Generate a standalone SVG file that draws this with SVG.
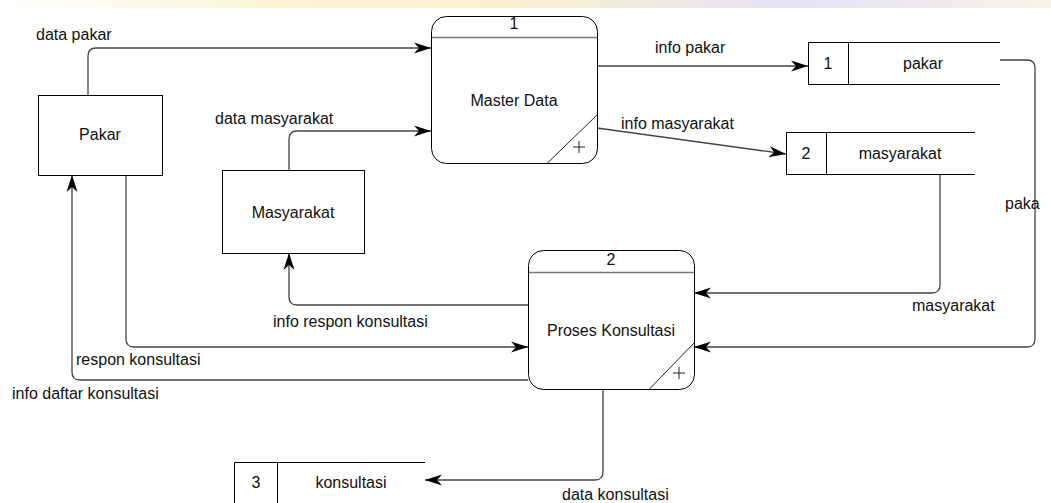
<svg xmlns="http://www.w3.org/2000/svg" width="1051" height="503" viewBox="0 0 1051 503">
<style>
  text { font-family: "Liberation Sans", Arial, sans-serif; font-size: 16px; fill: #111; }
  .box { fill: #fff; stroke: #000; stroke-width: 1; }
  .proc { fill: #fff; stroke: #000; stroke-width: 1; }
  .hdr { stroke: #777; stroke-width: 1.5; fill: none; }
  .thin { stroke: #222; stroke-width: 1; fill: none; }
  .store { stroke: #000; stroke-width: 1; fill: none; }
  .flow { stroke: #444; stroke-width: 1.3; fill: none; marker-end: url(#arr); }
  .c { text-anchor: middle; }
</style>
<defs>
  <marker id="arr" markerUnits="userSpaceOnUse" markerWidth="18" markerHeight="12" refX="17" refY="6" orient="auto">
    <path d="M0,0.5 L17,6 L0,11.5 L5,6 z" fill="#000"/>
  </marker>
  <linearGradient id="wm" x1="0" y1="0" x2="1" y2="0">
    <stop offset="0" stop-color="#fff"/>
    <stop offset="0.3" stop-color="#fbf3d0"/>
    <stop offset="0.55" stop-color="#f6efd6"/>
    <stop offset="0.75" stop-color="#e6e2f8"/>
    <stop offset="1" stop-color="#f7f3e6"/>
  </linearGradient>
</defs>
<rect width="1051" height="503" fill="#fff"/>
<rect x="0" y="0" width="1051" height="8" fill="url(#wm)"/>

<g id="connectors">
  <path class="flow" d="M88,95 V56 Q88,48 96,48 H431"/>
  <path class="flow" d="M289,170 V139 Q289,131 297,131 H431"/>
  <path class="flow" d="M597,66 H808"/>
  <path class="flow" d="M597,128 L786,154"/>
  <path class="flow" d="M940,174 V285 Q940,293 932,293 H694"/>
  <path class="flow" d="M1000,60 H1027 Q1035,60 1035,68 V339 Q1035,347 1027,347 H694"/>
  <path class="flow" d="M528,305 H297 Q289,305 289,297 V253"/>
  <path class="flow" d="M126,175 V339 Q126,347 134,347 H528"/>
  <path class="flow" d="M528,380 H80 Q72,380 72,372 V175"/>
  <path class="flow" d="M603,390 V472 Q603,480 595,480 H425"/>
  <text x="36" y="40">data pakar</text>
  <text x="215" y="124">data masyarakat</text>
  <text x="655" y="53">info pakar</text>
  <text x="621" y="129">info masyarakat</text>
  <text x="912" y="311">masyarakat</text>
  <text x="1005" y="209">paka</text>
  <text x="273" y="327">info respon konsultasi</text>
  <text x="76" y="365">respon konsultasi</text>
  <text x="12" y="399">info daftar konsultasi</text>
  <text x="562" y="500">data konsultasi</text>
</g>

<g id="pakar">
  <rect class="box" x="38.5" y="95.5" width="124" height="80"/>
  <text class="c" x="100" y="140">Pakar</text>
</g>

<g id="masyarakat">
  <rect class="box" x="222.5" y="170.5" width="142" height="83"/>
  <text class="c" x="293" y="218">Masyarakat</text>
</g>

<g id="master-data">
  <rect class="proc" x="431.5" y="16.5" width="166" height="147" rx="15"/>
  <line class="hdr" x1="432" y1="37.5" x2="597" y2="37.5"/>
  <line class="thin" x1="597" y1="115" x2="547" y2="163.5"/>
  <path class="thin" d="M573,147 H585 M579,141 V153"/>
  <text class="c" x="514" y="29">1</text>
  <text class="c" x="514" y="106">Master Data</text>
</g>

<g id="proses-konsultasi">
  <rect class="proc" x="528.5" y="250.5" width="166" height="139" rx="15"/>
  <line class="hdr" x1="529" y1="272.5" x2="694" y2="272.5"/>
  <line class="thin" x1="694" y1="343" x2="649" y2="389.5"/>
  <path class="thin" d="M673,373 H685 M679,367 V379"/>
  <text class="c" x="611" y="265">2</text>
  <text class="c" x="611" y="336">Proses Konsultasi</text>
</g>

<g id="store-pakar">
  <path class="store" d="M1000,42.5 H808.5 V84.5 H1000 M848.5,42.5 V84.5"/>
  <text class="c" x="828" y="69">1</text>
  <text class="c" x="923" y="69">pakar</text>
</g>

<g id="store-masyarakat">
  <path class="store" d="M975,132.5 H786.5 V174.5 H975 M826.5,132.5 V174.5"/>
  <text class="c" x="806" y="159">2</text>
  <text class="c" x="900" y="159">masyarakat</text>
</g>

<g id="store-konsultasi">
  <path class="store" d="M425,462.5 H234.5 V503 M277.5,462.5 V503"/>
  <text class="c" x="256" y="488">3</text>
  <text class="c" x="351" y="488">konsultasi</text>
</g>
</svg>
